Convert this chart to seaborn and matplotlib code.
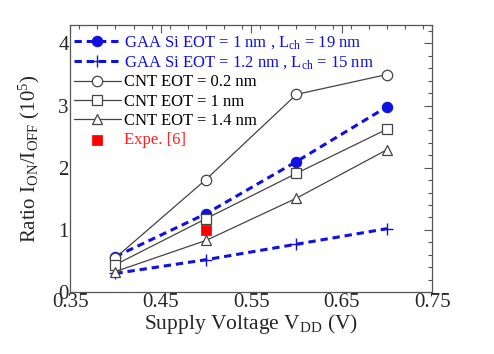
import matplotlib
matplotlib.use("Agg")
import matplotlib.pyplot as plt
import seaborn as sns
from matplotlib.ticker import MultipleLocator

sns.set_theme(style="white")
plt.rcParams['font.family'] = ['Liberation Serif', 'DejaVu Serif']
plt.rcParams['mathtext.fontset'] = 'custom'
plt.rcParams['mathtext.rm'] = 'Liberation Serif'
plt.rcParams['mathtext.it'] = 'Liberation Serif:italic'

vdd = [0.4, 0.5, 0.6, 0.7]
gaa_eot1 = [0.57, 1.26, 2.10, 2.98]
gaa_eot12 = [0.30, 0.52, 0.77, 1.02]
cnt_02 = [0.55, 1.81, 3.18, 3.50]
cnt_1 = [0.44, 1.18, 1.91, 2.62]
cnt_14 = [0.33, 0.83, 1.51, 2.29]
expe_x = [0.5]
expe_y = [1.0]

fig = plt.figure(figsize=(4.94, 3.54), dpi=100)
ax = fig.add_axes([0.142, 0.175, 0.733, 0.755])

blue = '#1010e0'
gray = '#444444'
dash = (0, (2.4, 1.6))
sns.lineplot(x=vdd, y=gaa_eot1, ax=ax, color=blue, lw=2.2, ls=dash,
             marker='o', ms=7.5, mfc=blue, mec=blue,
             label=r'GAA Si EOT = 1 nm , L$_{\mathrm{ch}}$ = 19 nm')
sns.lineplot(x=vdd, y=gaa_eot12, ax=ax, color=blue, lw=2.2, ls=dash,
             marker='+', ms=8, mew=1.0, mec=blue,
             label=r'GAA Si EOT = 1.2 nm , L$_{\mathrm{ch}}$ = 15 nm')
sns.lineplot(x=vdd, y=cnt_02, ax=ax, color=gray, lw=0.9,
             marker='o', ms=7.5, mfc='white', mec=gray, mew=0.9,
             label='CNT EOT = 0.2 nm')
sns.lineplot(x=vdd, y=cnt_1, ax=ax, color=gray, lw=0.9,
             marker='s', ms=7, mfc='white', mec=gray, mew=0.9,
             label='CNT EOT = 1 nm')
sns.lineplot(x=vdd, y=cnt_14, ax=ax, color=gray, lw=0.9,
             marker='^', ms=7, mfc='white', mec=gray, mew=0.9,
             label='CNT EOT = 1.4 nm')
sns.scatterplot(x=expe_x, y=expe_y, ax=ax, color='#ff0000', marker='s', s=45,
                edgecolor='#ff0000', label='Expe. [6]', zorder=5)

ax.set_xlim(0.35, 0.75)
ax.set_ylim(0, 4.3)
ax.set_xticks([0.35, 0.45, 0.55, 0.65, 0.75])
ax.set_xticklabels(['0.35', '0.45', '0.55', '0.65', '0.75'])
ax.set_yticks([0, 1, 2, 3, 4])
ax.xaxis.set_minor_locator(MultipleLocator(0.02))
ax.yaxis.set_minor_locator(MultipleLocator(0.2))
ax.tick_params(which='both', direction='in', top=True, right=True, color='#555555')
ax.tick_params(which='major', length=6, width=0.8, labelsize=15, pad=1)
ax.tick_params(which='minor', length=3, width=0.8)
for s in ax.spines.values():
    s.set_color('#555555')
    s.set_linewidth(0.9)

ax.set_xlabel(r'Supply Voltage V$_{\mathrm{DD}}$ (V)', fontsize=15.5, labelpad=0)
ax.set_ylabel(r'Ratio I$_{\mathrm{ON}}$/I$_{\mathrm{OFF}}$ (10$^{5}$)', fontsize=15, labelpad=12)

leg = ax.legend(loc='upper left', bbox_to_anchor=(-0.008, 0.99), frameon=False,
                fontsize=12, handlelength=2.8, handletextpad=0.2,
                borderaxespad=0.2, labelspacing=0.2, borderpad=0.2)
colors = [blue, blue, 'black', 'black', 'black', '#ff2020']
for t, c in zip(leg.get_texts(), colors):
    t.set_color(c)

fig.savefig('out.png', dpi=100)
